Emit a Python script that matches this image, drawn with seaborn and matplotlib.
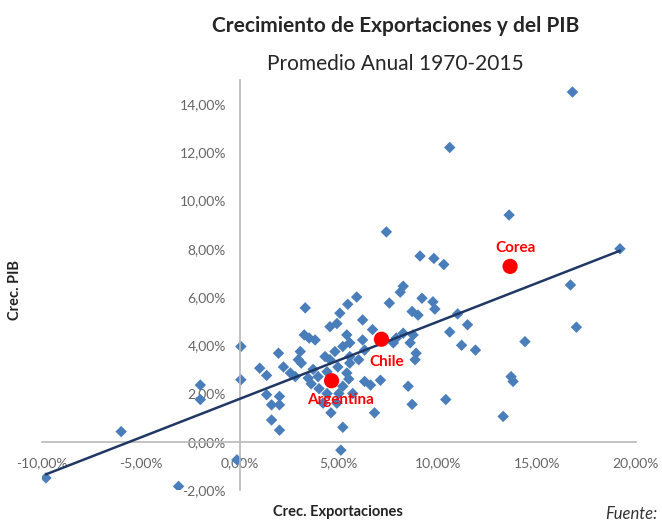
import matplotlib
matplotlib.use("Agg")
import matplotlib.pyplot as plt
import matplotlib.ticker as mticker
import seaborn as sns
import pandas as pd

# crecimiento promedio anual 1970-2015 (%), un punto por pais
exp_growth = [
    16.8, 10.6, 13.6, 7.4, 19.2, 9.1, 9.8, 10.3, 16.7, 17.0,
    14.4, 11.9, 11.5, 11.2, 11.0, 10.6, 13.7, 13.8, 13.3, 10.4,
    8.5, 8.7, 6.8, 7.1, 6.3, 6.6, 5.1, -0.15, -3.1, -9.8,
    -6.0, -2.0, -2.0, 0.05, 0.05, 8.25, 8.1, 5.9, 5.45, 9.2,
    9.75, 9.85, 7.55, 3.3, 5.05, 8.7, 9.0, 6.2, 4.9, 4.55,
    6.7, 3.25, 3.8, 3.5, 5.4, 5.55, 6.2, 7.9, 8.25, 8.75,
    8.6, 7.75, 8.9, 8.85, 6.3, 1.95, 3.05, 2.95, 4.8, 4.55,
    5.55, 5.2, 4.3, 1.0, 2.2, 1.35, 2.55, 3.1, 3.45, 3.95,
    5.4, 5.2, 4.9, 4.6, 5.2, 1.35, 2.0, 1.6, 2.0, 1.6,
    2.0, 4.95, 5.55, 5.7, 5.5, 4.2, 3.7, 2.8, 4.0, 4.4,
    5.0, 4.4, 3.6, 6.0,
]
gdp_growth = [
    14.5, 12.2, 9.4, 8.7, 8.0, 7.7, 7.6, 7.35, 6.5, 4.75,
    4.15, 3.8, 4.85, 4.0, 5.3, 4.55, 2.7, 2.5, 1.05, 1.75,
    2.3, 1.55, 1.2, 2.55, 2.5, 2.35, -0.35, -0.75, -1.85, -1.5,
    0.42, 2.35, 1.75, 3.95, 2.57, 6.45, 6.2, 6.0, 5.7, 5.95,
    5.8, 5.5, 5.75, 5.55, 5.33, 5.4, 5.25, 5.05, 4.9, 4.77,
    4.65, 4.43, 4.22, 4.3, 4.43, 4.1, 4.22, 4.3, 4.5, 4.43,
    4.1, 4.1, 3.67, 3.4, 3.8, 3.67, 3.74, 3.4, 3.74, 3.4,
    3.53, 3.95, 3.53, 3.05, 3.1, 2.75, 2.85, 3.26, 2.64, 2.7,
    2.85, 2.3, 1.6, 1.2, 0.6, 1.95, 1.88, 1.53, 1.53, 0.9,
    0.48, 3.1, 3.26, 2.0, 2.6, 1.6, 3.0, 2.7, 2.2, 2.0,
    2.0, 2.9, 2.4, 3.4,
]

highlight_names = ["Argentina", "Chile", "Corea"]
highlight_exp = [4.63, 7.15, 13.65]
highlight_gdp = [2.53, 4.25, 7.27]

df = pd.DataFrame({"exp": exp_growth + highlight_exp,
                   "gdp": gdp_growth + highlight_gdp})

sns.set_style("white")
plt.rcParams["font.family"] = ["Lato", "DejaVu Sans"]

fig = plt.figure(figsize=(6.62, 5.25), dpi=100)
ax = fig.add_axes([0.0634, 0.0667, 0.897, 0.781])

sns.scatterplot(x=exp_growth, y=gdp_growth, marker="D", s=34,
                color="#4a7ebb", edgecolor="none", ax=ax, zorder=2)
sns.regplot(data=df, x="exp", y="gdp", scatter=False, ci=None, ax=ax,
            line_kws={"color": "#1f3864", "lw": 1.8, "zorder": 3})
sns.scatterplot(x=highlight_exp, y=highlight_gdp, s=120, color="#ff0000",
                edgecolor="none", ax=ax, zorder=4)

label_offsets = {"Argentina": (0.45, -0.8), "Chile": (0.25, -0.95), "Corea": (0.3, 0.78)}
for name, xv, yv in zip(highlight_names, highlight_exp, highlight_gdp):
    dx, dy = label_offsets[name]
    ax.text(xv + dx, yv + dy, name, color="#ff0000", fontsize=11,
            fontweight="bold", ha="center", va="center", zorder=5)

ax.set_xlim(-10, 20)
ax.set_ylim(-2, 15)
ax.xaxis.set_major_locator(mticker.MultipleLocator(5))
ax.set_yticks(range(-2, 15, 2))
fmt = mticker.FuncFormatter(lambda v, p: f"{v:.2f}%".replace(".", ","))
ax.xaxis.set_major_formatter(fmt)
ax.yaxis.set_major_formatter(fmt)

ax.spines["left"].set_position(("data", 0))
ax.spines["bottom"].set_position(("data", 0))
ax.spines["top"].set_visible(False)
ax.spines["right"].set_visible(False)
for s in ("left", "bottom"):
    ax.spines[s].set_color("#b8b8b8")
    ax.spines[s].set_linewidth(1.2)
ax.tick_params(axis="both", direction="out", length=4, width=1, color="#b8b8b8",
               labelsize=10, labelcolor="#666666")
ax.tick_params(axis="y", pad=6)
ax.tick_params(axis="x", pad=7)

ax.set_xlabel("")
ax.set_ylabel("")
fig.text(338 / 662, 1 - 512 / 525, "Crec. Exportaciones", ha="center",
         va="center", fontsize=10.5, fontweight="bold", color="#222222")
fig.text(15 / 662, 1 - 290 / 525, "Crec. PIB", ha="center", va="center",
         rotation=90, fontsize=10.5, fontweight="bold", color="#222222")

fig.text(0.597, 0.951, "Crecimiento de Exportaciones y del PIB", ha="center",
         va="center", fontsize=15, fontweight="bold")
fig.text(0.597, 0.879, "Promedio Anual 1970-2015", ha="center", va="center",
         fontsize=15)
fig.text(0.914, 0.006, "Fuente:", ha="left", va="bottom", fontsize=12,
         style="italic", color="#333333")

fig.savefig("out.png", dpi=100)
